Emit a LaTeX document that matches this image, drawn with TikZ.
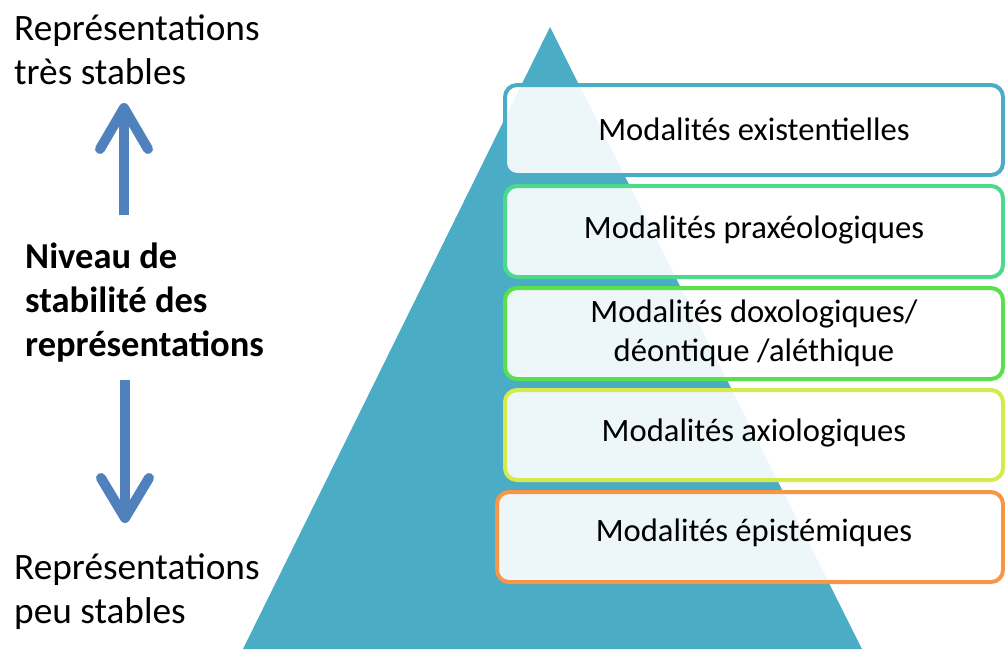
\documentclass[tikz,border=0pt]{standalone}
\usepackage{fontspec}
\setmainfont{Carlito}
\definecolor{pyr}{HTML}{4BACC6}
\definecolor{arr}{HTML}{4F81BD}
\definecolor{c1}{HTML}{4BACC6}
\definecolor{c2}{HTML}{4CD98C}
\definecolor{c3}{HTML}{5AE04C}
\definecolor{c4}{HTML}{D5EA4C}
\definecolor{c5}{HTML}{F79646}
\tikzset{
  modbox/.style={draw=#1, line width=4pt, rounded corners=12pt, fill=white, fill opacity=0.9, text opacity=1},
  modtext/.style={font=\fontsize{32.6}{39}\selectfont, align=center, text=black},
  sidetext/.style={font=\fontsize{37.3}{44}\selectfont, align=left, anchor=west, inner sep=0pt, text=black},
  boldtext/.style={font=\bfseries\fontsize{36.5}{44}\selectfont, align=left, anchor=west, inner sep=0pt, text=black},
  bigarrow/.style={draw=arr, line width=10pt, line cap=round, line join=round}
}
\begin{document}
\begin{tikzpicture}[x=1pt,y=-1pt]
\useasboundingbox (0,0) rectangle (1005,649);
% pyramid
\fill[pyr] (550,27) -- (862,649) -- (243,649) -- cycle;
% boxes
\path[modbox=c1] (505,85) rectangle (1003,175);
\path[modbox=c2] (505,186) rectangle (1003,277);
\path[modbox=c3] (505,288) rectangle (1003,379);
\path[modbox=c4] (505,390) rectangle (1003,480);
\path[modbox=c5] (497,492) rectangle (1003,582);
\node[modtext] (m1) at (754,129) {Modalités existentielles};
\node[modtext] (m2) at (754,230) {Modalités praxéologiques};
\node[modtext] (m3) at (754,333) {Modalités doxologiques/\\déontique /aléthique};
\node[modtext] (m4) at (754,433) {Modalités axiologiques};
\node[modtext] (m5) at (754,533) {Modalités épistémiques};
% left texts
\node[sidetext] (top) at (14,50) {Représentations\\très stables};
\node[sidetext] (bot) at (14,592) {Représentations\\peu stables};
\node[boldtext] (lvl) at (25,303) {Niveau de\\stabilité des\\représentations};
% arrows
\coordinate (upbase) at (124,215);
\coordinate (uptip) at (124,108);
\draw[bigarrow, line cap=butt] (upbase) -- (uptip);
\draw[bigarrow] (100,149) -- (uptip) -- (148,149);
\coordinate (dnbase) at (125,380);
\coordinate (dntip) at (125,518);
\draw[bigarrow, line cap=butt] (dnbase) -- (dntip);
\draw[bigarrow] (101,478) -- (dntip) -- (149,478);
\end{tikzpicture}
\end{document}
